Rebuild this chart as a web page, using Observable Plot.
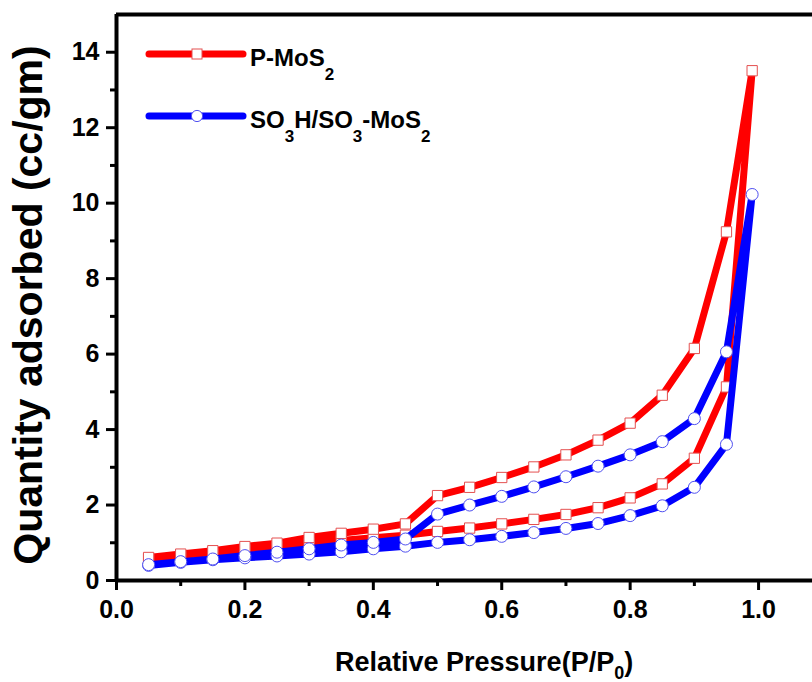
<!DOCTYPE html>
<html><head><meta charset="utf-8">
<script src="https://cdn.jsdelivr.net/npm/d3@7"></script>
<script src="https://cdn.jsdelivr.net/npm/@observablehq/plot@0.6"></script>
<style>
  body { margin: 0; background: #fff; }
  #chart { width: 812px; height: 682px; position: relative; }
</style>
</head><body>
<div id="chart"></div>
<script>
// Relative pressures (P/P0)
const pressureAds = [0.05,0.10,0.15,0.20,0.25,0.30,0.35,0.40,0.45,0.50,0.55,0.60,0.65,0.70,0.75,0.80,0.85,0.90,0.95,0.99];
const pressureDes = [0.95,0.90,0.85,0.80,0.75,0.70,0.65,0.60,0.55,0.50,0.45,0.40,0.35,0.30,0.25,0.20,0.15,0.10,0.05];
// P-MoS2 quantity adsorbed (cc/gm)
const pMoS2Ads = [0.58,0.66,0.74,0.82,0.90,0.98,1.06,1.13,1.20,1.30,1.39,1.50,1.62,1.75,1.93,2.19,2.56,3.24,5.13,13.51];
const pMoS2Des = [9.24,6.15,4.91,4.17,3.72,3.33,3.01,2.73,2.47,2.25,1.50,1.36,1.25,1.14,0.99,0.90,0.79,0.70,0.61];
// SO3H/SO3-MoS2 quantity adsorbed (cc/gm)
const so3MoS2Ads = [0.40,0.48,0.55,0.60,0.65,0.70,0.76,0.84,0.91,1.01,1.08,1.17,1.27,1.38,1.51,1.72,1.98,2.47,3.61,10.23];
const so3MoS2Des = [6.06,4.29,3.68,3.33,3.03,2.75,2.48,2.23,2.00,1.76,1.10,1.01,0.94,0.84,0.75,0.66,0.57,0.50,0.42];
// ticks
const xMajorTicks = [0.0,0.2,0.4,0.6,0.8,1.0];
const xMinorTicks = [0.1,0.3,0.5,0.7,0.9];
const yMajorTicks = [0,2,4,6,8,10,12,14];
const yMinorTicks = [1,3,5,7,9,11,13];
const xDomain = [0, 1.084];
const yDomain = [0, 15];

function loop(ads, des) {
  return [
    ...pressureAds.map((p, i) => ({p, q: ads[i]})),
    ...pressureDes.map((p, i) => ({p, q: des[i]}))
  ];
}
const redData = loop(pMoS2Ads, pMoS2Des);
const blueData = loop(so3MoS2Ads, so3MoS2Des);

const RED = "#f00", BLUE = "#00f";

const svg = Plot.plot({
  width: 812, height: 682,
  marginLeft: 116, marginRight: 0, marginTop: 14, marginBottom: 102,
  x: {domain: xDomain},
  y: {domain: yDomain},
  style: {fontFamily: "'Liberation Sans', Arial, sans-serif", fontSize: "25px", fontWeight: "bold", color: "#000", background: "#fff", overflow: "visible"},
  marks: [
    Plot.axisX(xMajorTicks, {tickSize: 10, tickPadding: 10, strokeWidth: 3, fontSize: 25, tickFormat: d => d.toFixed(1), label: null}),
    Plot.axisX(xMinorTicks, {tickSize: 6, strokeWidth: 3, tickFormat: () => "", label: null}),
    Plot.axisY(yMajorTicks, {tickSize: 10, tickPadding: 7, strokeWidth: 3, fontSize: 25, tickFormat: d => String(d), label: null}),
    Plot.axisY(yMinorTicks, {tickSize: 6, strokeWidth: 3, tickFormat: () => "", label: null}),
    Plot.line(redData, {x: "p", y: "q", stroke: RED, strokeWidth: 7}),
    Plot.dot(redData, {x: "p", y: "q", symbol: "square", r: 5.8, fill: "#fff", stroke: "#e45050", strokeWidth: 1}),
    Plot.line(blueData, {x: "p", y: "q", stroke: BLUE, strokeWidth: 7}),
    Plot.dot(blueData, {x: "p", y: "q", symbol: "circle", r: 6, fill: "#fff", stroke: "#5050f0", strokeWidth: 1}),
    Plot.ruleY([yDomain[0]], {strokeWidth: 4}),
    Plot.ruleY([yDomain[1]], {strokeWidth: 4}),
    Plot.ruleX([xDomain[0]], {strokeWidth: 4})
  ]
});
document.getElementById("chart").appendChild(svg);

const s = d3.select(svg);
// force tick label font
s.selectAll('g[aria-label="x-axis tick label"], g[aria-label="y-axis tick label"]')
  .attr("font-size", 25).style("font-size", "25px").style("font-weight", "bold");

// Axis titles
const xt = s.append("text").attr("x", 335).attr("y", 671).attr("text-anchor", "start").attr("font-size", 27).attr("fill", "#000");
xt.append("tspan").text("Relative Pressure(P/P");
xt.append("tspan").attr("font-size", 18).attr("dy", 8).text("0");
xt.append("tspan").attr("dy", -8).text(")");

s.append("text").attr("transform", "translate(42,305) rotate(-90)")
  .attr("text-anchor", "middle").attr("font-size", 41).attr("fill", "#000")
  .text("Quantity adsorbed (cc/gm)");

// Legend
const legendItems = [
  {parts: [["P-MoS", 0], ["2", 1]], color: RED, symbol: "square", mark: "#e45050", y: 54},
  {parts: [["SO", 0], ["3", 1], ["H/SO", 0], ["3", 1], ["-MoS", 0], ["2", 1]], color: BLUE, symbol: "circle", mark: "#5050f0", y: 116}
];
legendItems.forEach(it => {
  const g = s.append("g");
  g.append("line").attr("x1", 149).attr("x2", 243).attr("y1", it.y).attr("y2", it.y)
    .attr("stroke", it.color).attr("stroke-width", 7).attr("stroke-linecap", "round");
  if (it.symbol === "square") {
    g.append("rect").attr("x", 197 - 5).attr("y", it.y - 5).attr("width", 10).attr("height", 10)
      .attr("fill", "#fff").attr("stroke", it.mark).attr("stroke-width", 1);
  } else {
    g.append("circle").attr("cx", 197).attr("cy", it.y).attr("r", 5.6)
      .attr("fill", "#fff").attr("stroke", it.mark).attr("stroke-width", 1);
  }
  const t = g.append("text").attr("x", 250).attr("y", it.y + 12).attr("text-anchor", "start")
    .attr("font-size", 24).attr("fill", "#000");
  let sub = false;
  it.parts.forEach(([str, isSub]) => {
    const ts = t.append("tspan").text(str);
    if (isSub && !sub) { ts.attr("dy", 14).attr("font-size", 17); sub = true; }
    else if (!isSub && sub) { ts.attr("dy", -14); sub = false; }
    else if (isSub) { ts.attr("font-size", 17); }
  });
});
</script>
</body></html>
